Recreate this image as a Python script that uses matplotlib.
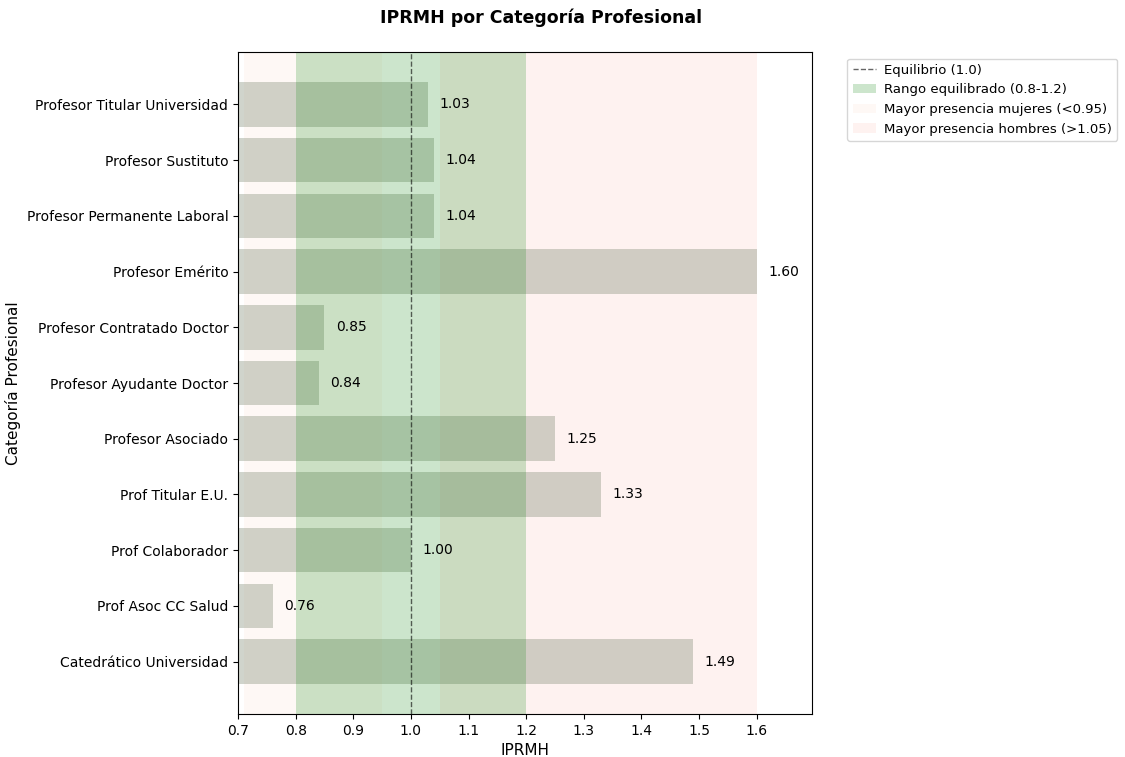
import matplotlib
matplotlib.use("Agg")
import matplotlib.pyplot as plt
import numpy as np

categories = [
    "Catedrático Universidad",
    "Prof Asoc CC Salud",
    "Prof Colaborador",
    "Prof Titular E.U.",
    "Profesor Asociado",
    "Profesor Ayudante Doctor",
    "Profesor Contratado Doctor",
    "Profesor Emérito",
    "Profesor Permanente Laboral",
    "Profesor Sustituto",
    "Profesor Titular Universidad",
]
values = [1.49, 0.76, 1.00, 1.33, 1.25, 0.84, 0.85, 1.60, 1.04, 1.04, 1.03]
labels = ["1.49", "0.76", "1.00", "1.33", "1.25", "0.84", "0.85", "1.60", "1.04", "1.04", "1.03"]

fig = plt.figure(figsize=(11.25, 7.57), dpi=100)
ax = fig.add_axes([238/1125, 1-714/757, (812-238)/1125, (714-52)/757])

y = np.arange(len(categories))
ax.barh(y, values, height=0.8, color="#7b866f", alpha=0.35, zorder=1.5)

ax.axvline(1.0, color="black", linestyle="--", linewidth=1, alpha=0.6,
           label="Equilibrio (1.0)", zorder=3)
ax.axvspan(0.8, 1.2, facecolor="green", alpha=0.2, linewidth=0,
           label="Rango equilibrado (0.8-1.2)", zorder=2)
ax.axvspan(min(values) - 0.05, 0.95, facecolor="#f4b183", alpha=0.08, linewidth=0,
           label="Mayor presencia mujeres (<0.95)", zorder=0.5)
ax.axvspan(1.05, max(values), facecolor="salmon", alpha=0.1, linewidth=0,
           label="Mayor presencia hombres (>1.05)", zorder=0.5)

for yi, v, lab in zip(y, values, labels):
    ax.text(v + 0.02, yi, lab, va="center", ha="left", fontsize=10, zorder=4)

ax.set_yticks(y)
ax.set_yticklabels(categories, fontsize=10)
ax.tick_params(axis="x", labelsize=10)
ax.set_xlim(0.7, 1.696)
ax.set_xticks([0.7, 0.8, 0.9, 1.0, 1.1, 1.2, 1.3, 1.4, 1.5, 1.6])
ax.set_xlabel("IPRMH", fontsize=11)
ax.set_ylabel("Categoría Profesional", fontsize=11)
fig.text(541/1125, 1-18/757, "IPRMH por Categoría Profesional", fontsize=12.5,
         fontweight="bold", ha="center", va="center")
ax.legend(loc="upper left", bbox_to_anchor=(1.05, 1.0), fontsize=9.5,
          handlelength=1.8, handletextpad=0.6)

fig.savefig("out.png", dpi=100)
